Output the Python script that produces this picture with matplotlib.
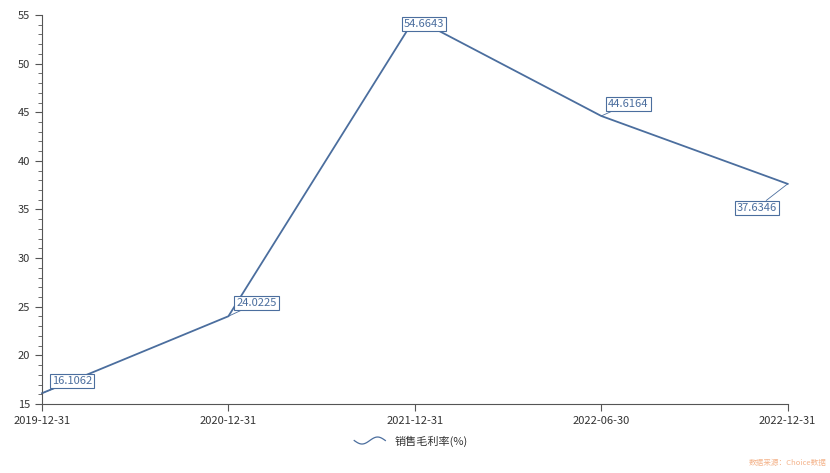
"""Recreate the gross-margin line chart."""

import numpy as np
import matplotlib
matplotlib.use("Agg")
import matplotlib.pyplot as plt
from matplotlib.legend_handler import HandlerLine2D
from matplotlib.lines import Line2D
from matplotlib.ticker import MultipleLocator

plt.rcParams["font.family"] = ["Noto Sans CJK SC", "DejaVu Sans"]

dates = ["2019-12-31", "2020-12-31", "2021-12-31", "2022-06-30", "2022-12-31"]
margin = [16.1062, 24.0225, 54.6643, 44.6164, 37.6346]
series_name = "销售毛利率(%)"
source_note = "数据来源：Choice数据"

# label offsets (px) from each point to the label box centre
label_offsets = [(30, 12), (28, 13), (9, -6), (27, 12), (-31, -24)]

LINE_COLOR = "#4b6e9e"
AXIS_COLOR = "#555555"


class WaveHandler(HandlerLine2D):
    def create_artists(self, legend, orig_handle, xdescent, ydescent,
                       width, height, fontsize, trans):
        xs = np.linspace(-xdescent, -xdescent + width, 40)
        ys = -ydescent + height / 2 + height * 0.45 * np.sin(
            np.linspace(np.pi, 3 * np.pi, 40))
        wave = Line2D(xs, ys, color=orig_handle.get_color(), linewidth=0.9,
                      transform=trans)
        return [wave]


fig = plt.figure(figsize=(8.3, 4.73), dpi=100)
ax = fig.add_axes([0.0506, 0.1459, 0.8984, 0.8224])

x = np.arange(len(dates))
line, = ax.plot(x, margin, color=LINE_COLOR, linewidth=1.3, label=series_name,
                clip_on=False)

for xi, yi, (dx, dy) in zip(x, margin, label_offsets):
    ax.annotate(
        f"{yi:.4f}", xy=(xi, yi), xytext=(dx * 0.72, dy * 0.72),
        textcoords="offset points", ha="center", va="center",
        fontsize=8, color=LINE_COLOR,
        bbox=dict(boxstyle="square,pad=0.18", fc="white", ec=LINE_COLOR, lw=0.8),
        arrowprops=dict(arrowstyle="-", color=LINE_COLOR, lw=0.6,
                        shrinkA=0, shrinkB=0),
        annotation_clip=False,
    )

ax.set_xlim(0, len(dates) - 1)
ax.set_ylim(15, 55)
ax.set_xticks(x)
ax.set_xticklabels(dates)
ax.yaxis.set_major_locator(MultipleLocator(5))
ax.yaxis.set_minor_locator(MultipleLocator(1))

for side in ("top", "right"):
    ax.spines[side].set_visible(False)
for side in ("left", "bottom"):
    ax.spines[side].set_color(AXIS_COLOR)
    ax.spines[side].set_linewidth(0.8)

ax.tick_params(axis="both", which="major", colors=AXIS_COLOR, labelcolor="#333333",
               labelsize=8, length=5, width=0.8)
ax.tick_params(axis="y", which="minor", colors=AXIS_COLOR, length=3, width=0.6)
ax.tick_params(axis="x", pad=4)

fig.legend(handles=[line], labels=[series_name], loc="center",
           bbox_to_anchor=(0.495, 0.068), frameon=False, fontsize=8,
           handler_map={Line2D: WaveHandler()}, handlelength=2.8,
           labelcolor="#333333")

fig.text(0.996, 0.012, source_note, ha="right", va="bottom",
         fontsize=5.5, color="#f4b48c")

fig.savefig("out.png", dpi=100)
plt.close(fig)
